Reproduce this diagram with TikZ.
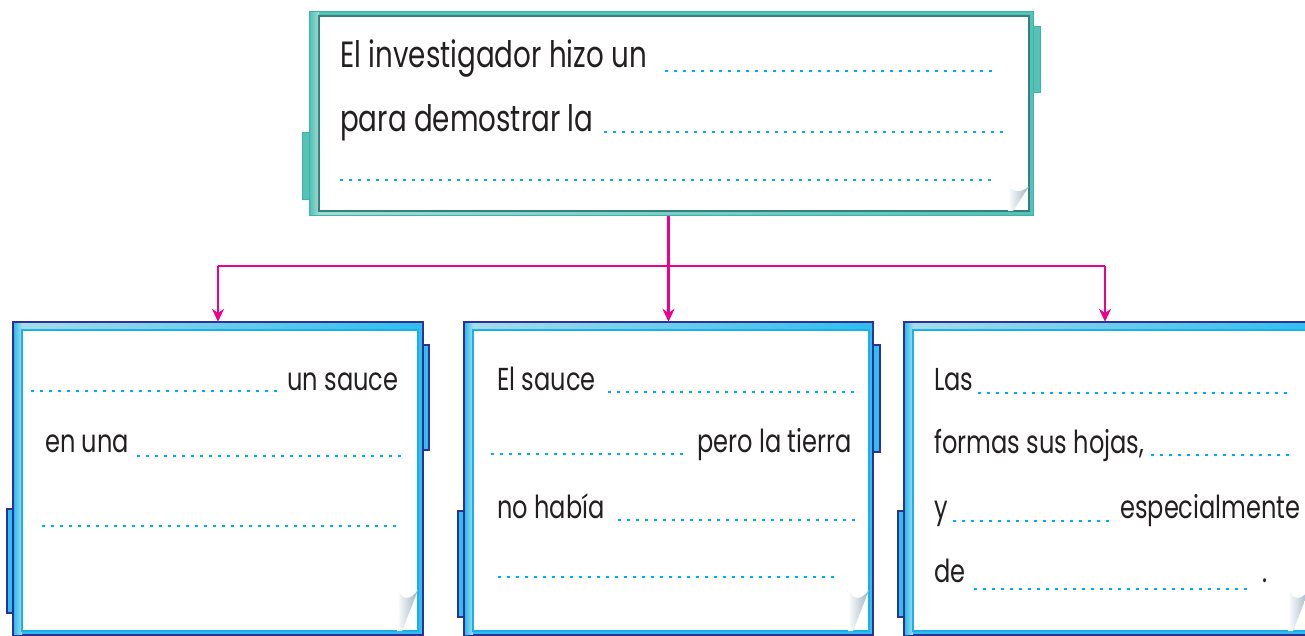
\documentclass[tikz,border=0pt]{standalone}
\usepackage{fontspec}
\setmainfont{Poppins}[FakeStretch=0.76]
\usetikzlibrary{arrows.meta}
\definecolor{ink}{HTML}{231F20}
\definecolor{dotblue}{HTML}{00AEEF}
\definecolor{navy}{HTML}{2E3192}
\definecolor{framecyan}{HTML}{2FBEEF}
\definecolor{framelight}{HTML}{A6DCEA}
\definecolor{innerline}{HTML}{1CB0EA}
\definecolor{tealmain}{HTML}{55C2B7}
\definecolor{tealedge}{HTML}{3DB3A9}
\definecolor{tealdark}{HTML}{357F7C}
\definecolor{teallight}{HTML}{A2DBD3}
\definecolor{pinkline}{HTML}{EC008C}
\definecolor{curlgray}{HTML}{9FB3C2}
\tikzset{
  txt/.style={anchor=base west, inner sep=0pt, text=ink, font=\fontsize{31.7}{37}\selectfont},
  toptxt/.style={txt, font=\fontsize{36.5}{42}\selectfont},
  blanks/.style={dotblue, line width=2.8pt, dash pattern=on 2.8pt off 6.2pt},
  boxanchor/.style={rectangle, draw=none, inner sep=0pt},
  bluetab/.style={fill=framecyan, draw=navy, line width=1.5pt},
  blueouter/.style={fill=framecyan, draw=navy, line width=1.6pt},
  whiteinner/.style={fill=white, draw=innerline, line width=1.4pt},
  tealtab/.style={fill=tealmain, draw=tealedge, line width=1pt},
  tealouter/.style={fill=tealmain, draw=tealedge, line width=1pt},
  tealinner/.style={fill=white, draw=tealdark, line width=1.2pt},
  link/.style={pinkline, line width=2.8pt, -{Stealth[length=13pt,width=12pt]}},
  linkplain/.style={pinkline, line width=2.8pt},
  pagecurl/.pic={
    \shade[left color=white, right color=curlgray]
      (-20,-40) .. controls (-14,-30) and (-8,-31) .. (0,-41)
      -- (-16,0) -- (-21,0) .. controls (-19,-15) .. (-20,-40) -- cycle;
  }
}
\begin{document}
\begin{tikzpicture}[x=1pt,y=-1pt]
\useasboundingbox (0,0) rectangle (1305,636);
\clip (0,0) rectangle (1305,636);

% ---------- top box ----------
\draw[tealtab] (302,133) rectangle (309,200);
\draw[tealtab] (1033,27) rectangle (1040,93);
\draw[tealouter] (309,12) rectangle (1033,216);
\shade[left color=tealmain, right color=teallight] (310,13) rectangle (319,215);
\shade[left color=teallight, right color=tealmain] (319,211) rectangle (1032,215);
\draw[tealinner] (319,16) rectangle (1029,211);
\pic[yscale=0.6] at (1029,211) {pagecurl};
\node[boxanchor, minimum width=724pt, minimum height=204pt] (top) at (671,114) {};

% ---------- bottom box 1 ----------
\draw[bluetab] (7,509) rectangle (13,613);
\draw[bluetab] (423,345) rectangle (429,450);
\draw[blueouter] (13,322) rectangle (423,635);
\shade[left color=framecyan, right color=framelight] (14,323) rectangle (22,634);
\shade[left color=framelight, right color=framecyan] (22,323) rectangle (422,330);
\draw[whiteinner] (22,330) rectangle (418,631);
\pic at (418,631) {pagecurl};
\node[boxanchor, minimum width=410pt, minimum height=313pt] (b1) at (218,478.5) {};

% ---------- bottom box 2 ----------
\draw[bluetab] (458,511) rectangle (464,617);
\draw[bluetab] (873,345) rectangle (880,452);
\draw[blueouter] (464,322) rectangle (873,635);
\shade[left color=framecyan, right color=framelight] (465,323) rectangle (473,634);
\shade[left color=framelight, right color=framecyan] (473,323) rectangle (872,330);
\draw[whiteinner] (473,330) rectangle (869,631);
\pic at (869,631) {pagecurl};
\node[boxanchor, minimum width=409pt, minimum height=313pt] (b2) at (668.5,478.5) {};

% ---------- bottom box 3 ----------
\draw[bluetab] (898,511) rectangle (904,617);
\draw[blueouter] (904,322) rectangle (1316,635);
\shade[left color=framecyan, right color=framelight] (905,323) rectangle (913,634);
\shade[left color=framelight, right color=framecyan] (913,323) rectangle (1315,330);
\draw[whiteinner] (913,330) rectangle (1311,631);
\pic at (1309,631) {pagecurl};
\node[boxanchor, minimum width=402pt, minimum height=313pt] (b3) at (1105,478.5) {};

% ---------- connectors ----------
\coordinate (hub) at (668,266);
\draw[linkplain] (hub -| b1.north) -- (hub -| b3.north);
\draw[link] (top.south -| b2.north) -- (b2.north);
\draw[link] (hub -| b1.north) -- (b1.north);
\draw[link] (hub -| b3.north) -- (b3.north);

% ---------- top texts ----------
\node[toptxt] (t1) at (340,68) {El investigador hizo un};
\draw[blanks] (665,71) -- (995,71);
\node[toptxt] (t2) at (340,132) {para demostrar la};
\draw[blanks] (604,132) -- (1004,132);
\draw[blanks] (340,180) -- (996,180);

% ---------- box 1 texts ----------
\draw[blanks] (31,391) -- (281,391);
\node[txt] (a1) at (287,390) {un sauce};
\node[txt] (a2) at (45,452) {en una};
\draw[blanks] (137,456) -- (401,456);
\draw[blanks] (42,526) -- (399,526);

% ---------- box 2 texts ----------
\node[txt] (c1) at (497,390) {El sauce};
\draw[blanks] (608,392) -- (857,392);
\draw[blanks] (491,454) -- (685,454);
\node[txt] (c2) at (697,452) {pero la tierra};
\node[txt] (c3) at (497,518) {no había};
\draw[blanks] (618,520) -- (857,520);
\draw[blanks] (498,577) -- (837,577);

% ---------- box 3 texts ----------
\node[txt] (d1) at (934,390) {Las};
\draw[blanks] (978,393) -- (1292,393);
\node[txt] (d2) at (934,453) {formas sus hojas,};
\draw[blanks] (1151,455) -- (1292,455);
\node[txt] (d3) at (934,518) {y};
\draw[blanks] (953,521) -- (1112,521);
\node[txt] (d4) at (1120,518) {especialmente};
\node[txt] (d5) at (934,582) {de};
\draw[blanks] (974,589) -- (1250,589);
\node[txt] (d6) at (1262,582) {.};
\end{tikzpicture}
\end{document}
